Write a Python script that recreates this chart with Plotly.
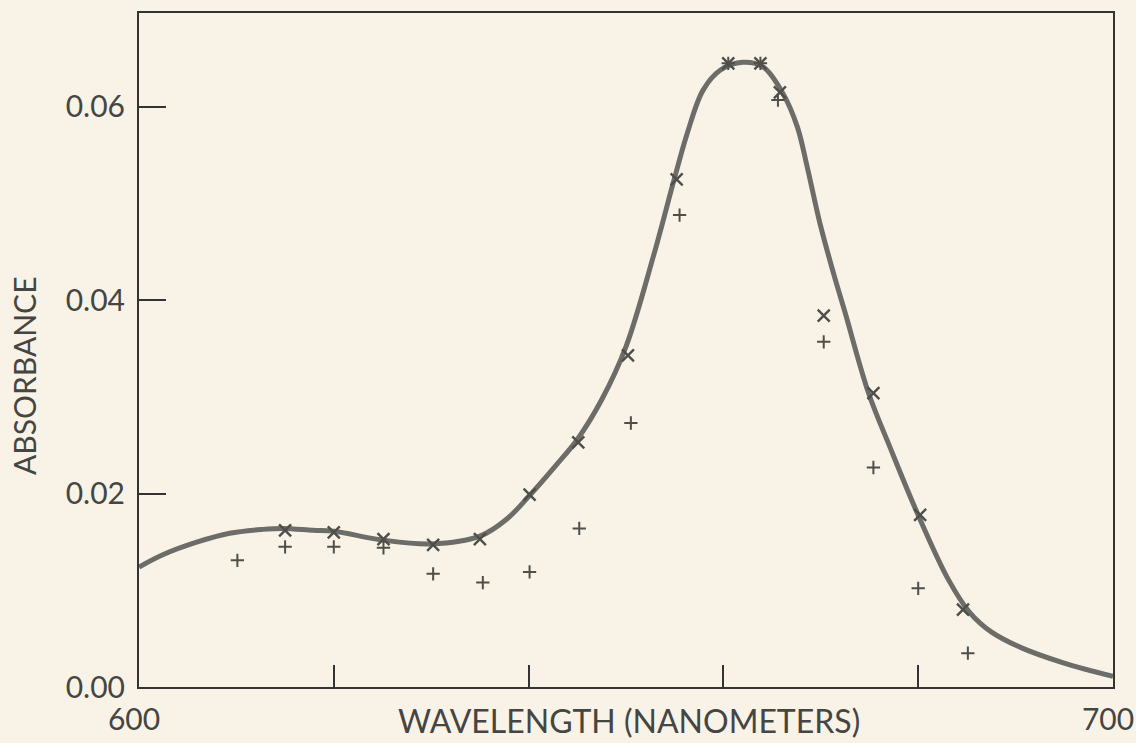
import plotly.graph_objects as go

# Smooth fitted curve
curve_x = [600, 602.5, 606, 609.3, 612.7, 614.8, 617.9, 620, 625, 630, 635, 637.8, 640,
           642.7, 645, 647.5, 650, 652.8, 655, 656.3, 657.9, 659.7, 662, 664.1, 666.1,
           667.6, 668.6, 669.9, 671.3, 672.5, 674.9, 677.1, 679.9, 683.1, 685.3, 687.5,
           690.5, 694.9, 700]
curve_y = [0.0124, 0.0137, 0.0150, 0.0159, 0.0163, 0.0164, 0.0162, 0.0161, 0.0152, 0.0148,
           0.0156, 0.0174, 0.0197, 0.0228, 0.0256, 0.0297, 0.0352, 0.0445, 0.0527, 0.0573,
           0.0617, 0.0638, 0.0646, 0.0641, 0.0614, 0.0579, 0.0538, 0.0480, 0.0428, 0.0387,
           0.0304, 0.0248, 0.0180, 0.0111, 0.0077, 0.0057, 0.0041, 0.0025, 0.0011]

# "x" data points
x_pts_x = [615.0, 620.0, 625.1, 630.2, 635.0, 640.1, 645.1, 650.2, 655.2, 660.5, 663.8,
           665.8, 670.3, 675.4, 680.2, 684.6]
x_pts_y = [0.0162, 0.0160, 0.0153, 0.0147, 0.0153, 0.0199, 0.0253, 0.0343, 0.0525, 0.0645,
           0.0645, 0.0615, 0.0384, 0.0304, 0.0178, 0.0080]

# "+" data points
p_pts_x = [610.1, 615.0, 620.0, 625.1, 630.2, 635.3, 640.1, 645.2, 650.5, 655.5, 660.5,
           663.8, 665.6, 670.3, 675.4, 680.0, 685.1]
p_pts_y = [0.0131, 0.0145, 0.0145, 0.0144, 0.0117, 0.0108, 0.0119, 0.0164, 0.0273, 0.0488,
           0.0645, 0.0645, 0.0607, 0.0357, 0.0227, 0.0102, 0.0035]

x_tickvals = [600, 620, 640, 660, 680, 700]
x_ticktext = ["600", "", "", "", "", "700"]
y_tickvals = [0.0, 0.02, 0.04, 0.06]
y_ticktext = ["0.00", "0.02", "0.04", "0.06"]
x_title = "WAVELENGTH (NANOMETERS)"
y_title = "ABSORBANCE"

bg = "#f8f3e6"
ink = "#454543"
font = "Lato, 'Open Sans', sans-serif"

fig = go.Figure()
fig.add_trace(go.Scatter(x=curve_x, y=curve_y, mode="lines",
                         line=dict(color="#6c6c68", width=5, shape="spline", smoothing=1.0),
                         hoverinfo="skip", showlegend=False))
fig.add_trace(go.Scatter(x=x_pts_x, y=x_pts_y, mode="markers",
                         marker=dict(symbol="x-thin-open", size=12, color="#4e4e4b",
                                     line=dict(color="#4e4e4b", width=2.4)),
                         showlegend=False))
fig.add_trace(go.Scatter(x=p_pts_x, y=p_pts_y, mode="markers",
                         marker=dict(symbol="cross-thin-open", size=9.5, color="#4e4e4b",
                                     line=dict(color="#4e4e4b", width=2)),
                         showlegend=False))

fig.update_layout(
    width=1136, height=743,
    margin=dict(l=139, r=23, t=13, b=56, autoexpand=False),
    paper_bgcolor=bg, plot_bgcolor=bg,
    font=dict(family=font, color=ink),
    xaxis=dict(range=[600, 700], tickvals=x_tickvals, ticktext=x_ticktext,
               ticks="inside", ticklen=22, tickwidth=2, tickcolor="#333",
               showline=True, linecolor="#333", linewidth=2, mirror=True,
               showgrid=False, zeroline=False, automargin=False,
               ticklabelstandoff=5, ticklabelshift=-5, ticklabeloverflow="allow",
               tickfont=dict(size=30, color=ink)),
    yaxis=dict(range=[0, 0.0697], tickvals=y_tickvals, ticktext=y_ticktext,
               ticks="inside", ticklen=27, tickwidth=2, tickcolor="#333",
               showline=True, linecolor="#333", linewidth=2, mirror=True,
               showgrid=False, zeroline=False, automargin=False,
               ticklabelstandoff=6, ticklabeloverflow="allow",
               tickfont=dict(size=30, color=ink)),
    annotations=[
        dict(text=x_title, xref="paper", yref="paper", x=(629 - 139) / 974, y=-(720 - 687) / 674,
             xanchor="center", yanchor="middle", showarrow=False,
             font=dict(size=32, color=ink)),
        dict(text=y_title, xref="paper", yref="paper", x=-(139 - 24) / 974, y=(687 - 376) / 674,
             xanchor="center", yanchor="middle", showarrow=False, textangle=-90,
             font=dict(size=30, color=ink)),
    ],
)

fig.write_html("out.html",
               config={"displayModeBar": False},
               post_script="document.body.style.margin='0';"
                           "document.body.style.background='#f8f3e6';"
                           "document.body.style.overflow='hidden';")
